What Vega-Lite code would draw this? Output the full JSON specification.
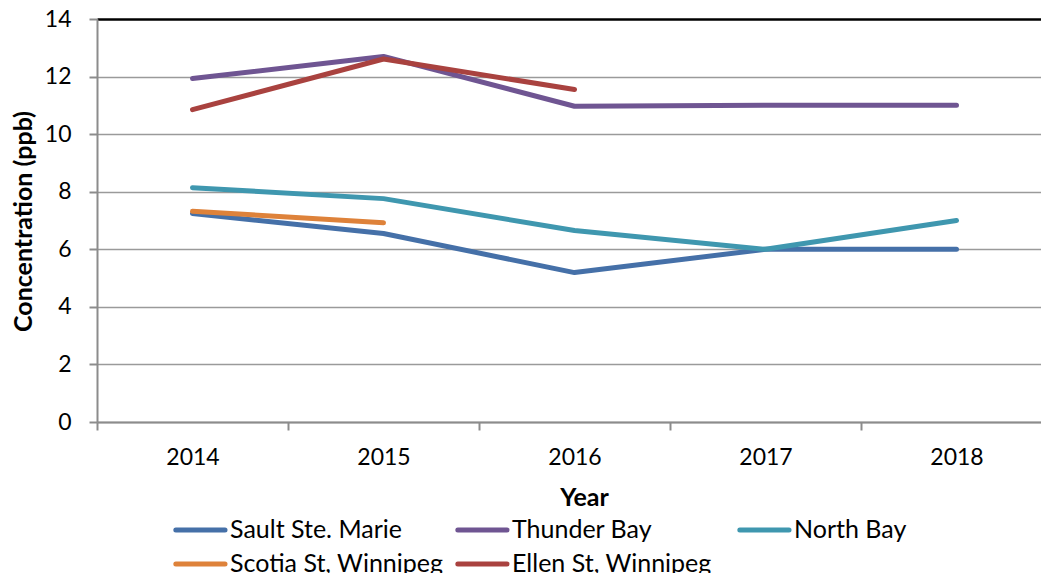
{
  "$schema": "https://vega.github.io/schema/vega-lite/v6.json",
  "width": 944,
  "height": 403,
  "autosize": {"type": "none"},
  "padding": {"left": 97, "top": 19, "right": 0, "bottom": 151},
  "background": "white",
  "config": {
    "view": {"stroke": null},
    "font": "Lato"
  },
  "data": {
    "values": [
      {"site": "Sault Ste. Marie", "year": 2014, "value": 7.24},
      {"site": "Sault Ste. Marie", "year": 2015, "value": 6.55},
      {"site": "Sault Ste. Marie", "year": 2016, "value": 5.19},
      {"site": "Sault Ste. Marie", "year": 2017, "value": 6.0},
      {"site": "Sault Ste. Marie", "year": 2018, "value": 6.0},
      {"site": "Thunder Bay", "year": 2014, "value": 11.93},
      {"site": "Thunder Bay", "year": 2015, "value": 12.7},
      {"site": "Thunder Bay", "year": 2016, "value": 10.97},
      {"site": "Thunder Bay", "year": 2017, "value": 11.0},
      {"site": "Thunder Bay", "year": 2018, "value": 11.0},
      {"site": "North Bay", "year": 2014, "value": 8.14},
      {"site": "North Bay", "year": 2015, "value": 7.76},
      {"site": "North Bay", "year": 2016, "value": 6.65},
      {"site": "North Bay", "year": 2017, "value": 6.0},
      {"site": "North Bay", "year": 2018, "value": 7.0},
      {"site": "Scotia St, Winnipeg", "year": 2014, "value": 7.32},
      {"site": "Scotia St, Winnipeg", "year": 2015, "value": 6.92},
      {"site": "Ellen St, Winnipeg", "year": 2014, "value": 10.85},
      {"site": "Ellen St, Winnipeg", "year": 2015, "value": 12.61},
      {"site": "Ellen St, Winnipeg", "year": 2016, "value": 11.55}
    ]
  },
  "mark": {"type": "line", "strokeWidth": 5, "strokeCap": "round", "strokeJoin": "round", "clip": true},
  "encoding": {
    "x": {
      "field": "year",
      "type": "quantitative",
      "scale": {"domain": [2013.5, 2018.4424], "nice": false, "zero": false},
      "axis": {
        "title": "Year",
        "titleFont": "Lato",
        "titleFontSize": 25,
        "titleFontWeight": "bold",
        "titleColor": "black",
        "titleBaseline": "alphabetic",
        "titleX": 487,
        "titleY": 83,
        "values": [2013.5, 2014, 2014.5, 2015, 2015.5, 2016, 2016.5, 2017, 2017.5, 2018],
        "labelExpr": "datum.value % 1 === 0 ? toString(datum.value) : ''",
        "labelFont": "Lato",
        "labelFontSize": 23,
        "labelColor": "black",
        "labelBaseline": "alphabetic",
        "labelPadding": 34,
        "labelOverlap": false,
        "labelFlush": false,
        "labelBound": false,
        "grid": false,
        "domainColor": "#8c8c8c",
        "domainWidth": 2,
        "tickColor": "#8c8c8c",
        "tickWidth": 2,
        "tickSize": 8,
        "tickOpacity": {"condition": {"test": "datum.value % 1 === 0", "value": 0}, "value": 1}
      }
    },
    "y": {
      "field": "value",
      "type": "quantitative",
      "scale": {"domain": [0, 14], "nice": false},
      "axis": {
        "title": "Concentration (ppb)",
        "titleFont": "Lato",
        "titleFontSize": 25,
        "titleFontWeight": "bold",
        "titleColor": "black",
        "titleAngle": -90,
        "titleBaseline": "middle",
        "titleX": -74,
        "titleY": 202,
        "values": [0, 2, 4, 6, 8, 10, 12, 14],
        "labelFont": "Lato",
        "labelFontSize": 23,
        "labelColor": "black",
        "labelPadding": 18,
        "grid": true,
        "gridColor": {"condition": {"test": "datum.value === 14", "value": "black"}, "value": "#9a9a9a"},
        "gridWidth": {"condition": {"test": "datum.value === 14", "value": 2.5}, "value": 1.6},
        "domainColor": "#8c8c8c",
        "domainWidth": 2,
        "tickColor": "#8c8c8c",
        "tickWidth": 2,
        "tickSize": 8
      }
    },
    "color": {
      "field": "site",
      "type": "nominal",
      "scale": {
        "domain": ["Sault Ste. Marie", "Thunder Bay", "North Bay", "Scotia St, Winnipeg", "Ellen St, Winnipeg"],
        "range": ["#4570a8", "#6f5592", "#3f97af", "#de823a", "#a9423f"]
      },
      "legend": {
        "title": null,
        "orient": "none",
        "legendX": 76,
        "legendY": 497,
        "direction": "horizontal",
        "columns": 3,
        "gridAlign": "all",
        "columnPadding": 3,
        "rowPadding": 7,
        "padding": 0,
        "symbolType": "M-1,0H3.4",
        "symbolSize": 500,
        "symbolStrokeWidth": 5,
        "symbolFillColor": "transparent",
        "labelFont": "Lato",
        "labelFontSize": 25,
        "labelColor": "black",
        "labelOffset": 29,
        "labelLimit": 400,
        "encode": {"symbols": {"update": {"strokeCap": {"value": "round"}, "fill": {"value": "transparent"}}}}
      }
    }
  }
}
